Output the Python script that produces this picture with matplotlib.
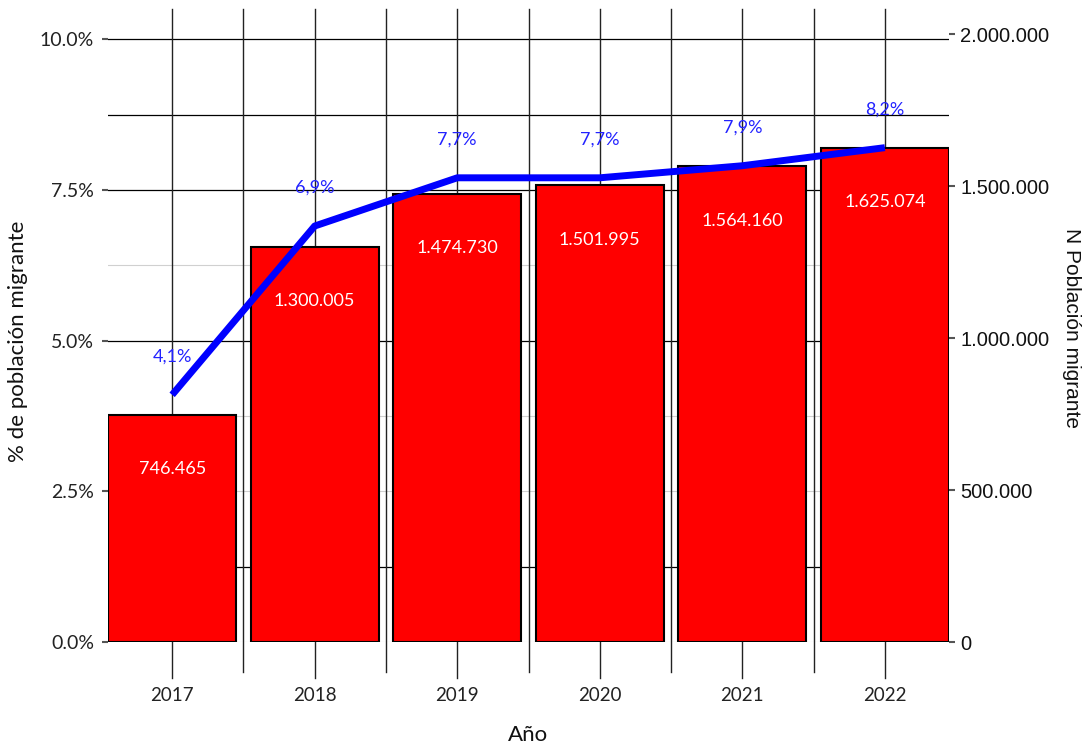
import matplotlib.pyplot as plt

# Datos
anios = ['2017', '2018', '2019', '2020', '2021', '2022']
n_migrantes = [746465, 1300005, 1474730, 1501995, 1564160, 1625074]
pct_migrantes = [4.1, 6.9, 7.7, 7.7, 7.9, 8.2]
pct_ticks = [0, 2.5, 5.0, 7.5, 10.0]
n_ticks = [0, 500000, 1000000, 1500000, 2000000]

fuente = 'Lato'
fuente2 = 'Liberation Sans'

fig = plt.figure(figsize=(10.84, 7.46), dpi=100)
L, B, W, H = 108 / 1084, 104 / 746, 841 / 1084, 633 / 746
ax = fig.add_axes([L, B, W, H])
x = list(range(len(anios)))

ax.set_xlim(-0.45, 5.45)
ax.set_ylim(0, 10.5)
for s in ax.spines.values():
    s.set_visible(False)

# Lineas de grilla
for v in [10.0, 8.75, 7.5, 5.0, 1.25]:
    ax.axhline(v, color='black', lw=0.9, zorder=0)
for v in [6.25, 3.75, 2.5, 0]:
    ax.axhline(v, color='#d0d0d0', lw=0.8, zorder=0)
for i in x:
    ax.axvline(i, ymin=-36 / 633, ymax=1, color='#222222', lw=1.0, clip_on=False, zorder=0)
for i in x[:-1]:
    ax.axvline(i + 0.5, ymin=-30 / 633, ymax=1, color='#222222', lw=1.0, clip_on=False, zorder=0)

ax.set_xticks(x)
ax.set_xticklabels(anios, fontsize=13.5, fontfamily=fuente, color='#222222')
ax.tick_params(axis='x', length=0, pad=32.5)
ax.set_yticks(pct_ticks)
ax.set_yticklabels([f'{v:.1f}%' for v in pct_ticks], fontsize=14, fontfamily=fuente, color='#222222')
ax.tick_params(axis='y', length=4, width=1.5, color='#555555', pad=6)

# Barras (eje derecho)
axn = ax.twinx()
axn.set_ylim(0, 2000000 * 633 / 608)
axn.patch.set_visible(False)
for s in axn.spines.values():
    s.set_visible(False)
axn.bar(x, n_migrantes, width=0.9, color='#ff0000', edgecolor='black', linewidth=1.5, zorder=2)
for i, n in zip(x, n_migrantes):
    axn.annotate(f'{n:,}'.replace(',', '.'), xy=(i, n), xytext=(0, -39), textcoords='offset points',
                 ha='center', va='center', color='white', fontsize=13, fontfamily=fuente)
axn.set_yticks(n_ticks)
axn.set_yticklabels([f'{v:,}'.replace(',', '.') for v in n_ticks], fontsize=14.5, fontfamily=fuente2, color='#111111')
axn.tick_params(axis='y', length=4, width=1.5, color='#555555', pad=4)

# Linea de porcentaje
axl = ax.twinx()
axl.set_ylim(ax.get_ylim())
axl.set_yticks([])
axl.patch.set_visible(False)
for s in axl.spines.values():
    s.set_visible(False)
axl.plot(x, pct_migrantes, color='#0000ff', lw=5, solid_capstyle='butt', zorder=3)
for i, p in zip(x, pct_migrantes):
    axl.annotate(f'{p:.1f}%'.replace('.', ','), xy=(i, p), xytext=(0, 27.5), textcoords='offset points',
                 ha='center', va='center', color='#2222ff', fontsize=13, fontfamily=fuente)

# Titulos de ejes
fig.text(18 / 1084, 1 - 341 / 746, '% de población migrante', rotation=90, ha='center', va='center',
         fontsize=16, fontfamily=fuente, color='#111111')
fig.text(1072 / 1084, 1 - 328 / 746, 'N Población migrante', rotation=270, ha='center', va='center',
         fontsize=15, fontfamily=fuente2, color='#111111')
fig.text(528 / 1084, 1 - 735 / 746, 'Año', ha='center', va='center',
         fontsize=16, fontfamily=fuente, color='#111111')

fig.savefig('out.png', dpi=100)
